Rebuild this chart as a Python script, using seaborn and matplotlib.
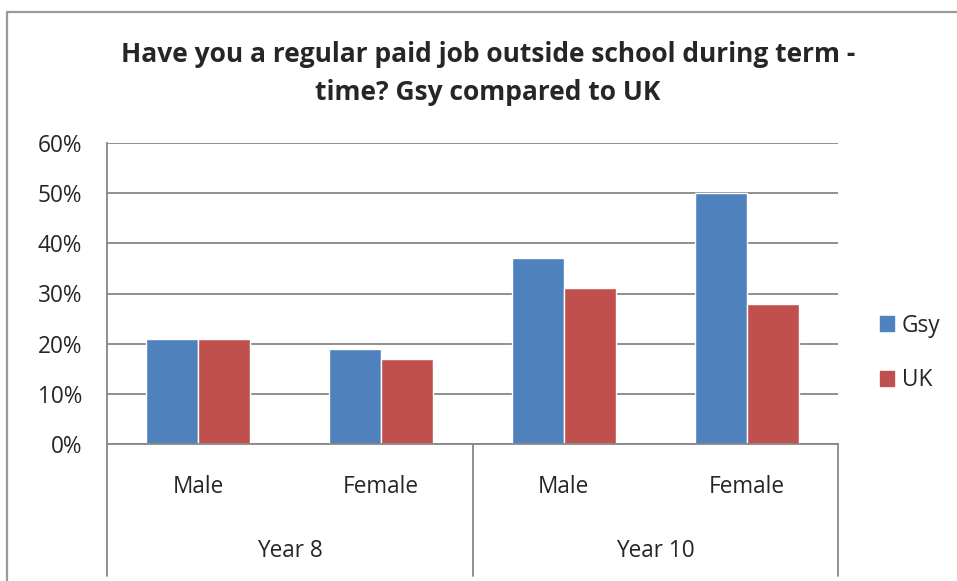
import matplotlib
matplotlib.use("Agg")
import matplotlib.pyplot as plt
import seaborn as sns
import pandas as pd
from matplotlib.lines import Line2D
from matplotlib.patches import Rectangle

sub_labels = ["Male", "Female", "Male", "Female"]
group_labels = ["Year 8", "Year 10"]
categories = ["Y8 Male", "Y8 Female", "Y10 Male", "Y10 Female"]
gsy = [21, 19, 37, 50]
uk = [21, 17, 31, 28]
series = ["Gsy", "UK"]
colors = ["#4F81BD", "#C0504D"]
yticks = [0, 10, 20, 30, 40, 50, 60]
title_lines = ["Have you a regular paid job outside school during term -",
               "time? Gsy compared to UK"]

df = pd.DataFrame({
    "cat": categories * 2,
    "val": gsy + uk,
    "series": [series[0]] * 4 + [series[1]] * 4,
})

sns.set_style("white")
plt.rcParams["font.family"] = ["Open Sans", "DejaVu Sans"]

W, H = 957, 581
fig = plt.figure(figsize=(W / 100, H / 100), dpi=100)
L, R, T, B = 107, 838, 143, 444
ax = fig.add_axes([L / W, 1 - B / H, (R - L) / W, (B - T) / H])

sns.barplot(data=df, x="cat", y="val", hue="series", order=categories,
            hue_order=series, palette=colors, width=0.57, saturation=1,
            ax=ax, legend=False)

fs = 16.3
grid_c = "#878787"
ax.set_ylim(0, 60)
ax.set_xlim(-0.5, 3.5)
ax.set_yticks(yticks)
ax.set_yticklabels([f"{t}%" for t in yticks], fontsize=fs)
ax.yaxis.grid(True, color=grid_c, linewidth=1.3)
ax.set_axisbelow(True)
ax.set_xlabel("")
ax.set_ylabel("")
ax.set_xticks(range(4))
ax.set_xticklabels([])
ax.tick_params(axis="x", length=0)
ax.tick_params(axis="y", length=4, color=grid_c, width=1.3, pad=14)
for s in ["top", "right"]:
    ax.spines[s].set_visible(False)
ax.spines["left"].set_color(grid_c)
ax.spines["left"].set_linewidth(1.3)
ax.spines["bottom"].set_color(grid_c)
ax.spines["bottom"].set_linewidth(1.3)

def fy(y):
    return 1 - y / H

for i, lab in enumerate(sub_labels):
    xf = (L + (i + 0.5) * (R - L) / 4) / W
    fig.text(xf, fy(487), lab, ha="center", va="center", fontsize=fs)
for j, lab in enumerate(group_labels):
    xf = (L + (j + 0.5) * (R - L) / 2) / W
    fig.text(xf, fy(551), lab, ha="center", va="center", fontsize=fs)

for xp in [L, (L + R) / 2, R]:
    fig.add_artist(Line2D([xp / W, xp / W], [fy(B), fy(576)], color=grid_c,
                          linewidth=1.3, transform=fig.transFigure))

fig.add_artist(Line2D([6.5 / W, 6.5 / W, 1.0], [0.0, fy(11.5), fy(11.5)],
                      color="#9a9a9a", linewidth=1.6, transform=fig.transFigure))

for k, (line, yy) in enumerate(zip(title_lines, [55, 92])):
    fig.text(488 / W, fy(yy), line, ha="center", va="center", fontsize=19,
             fontweight="bold")

handles = [Rectangle((0, 0), 1, 1, color=c) for c in colors]
fig.legend(handles, series, loc="center left", bbox_to_anchor=(880 / W, fy(353)),
           frameon=False, fontsize=fs, handlelength=0.62, handleheight=0.62,
           handletextpad=0.35, labelspacing=1.35, borderaxespad=0, borderpad=0)

fig.savefig("out.png", dpi=100)
